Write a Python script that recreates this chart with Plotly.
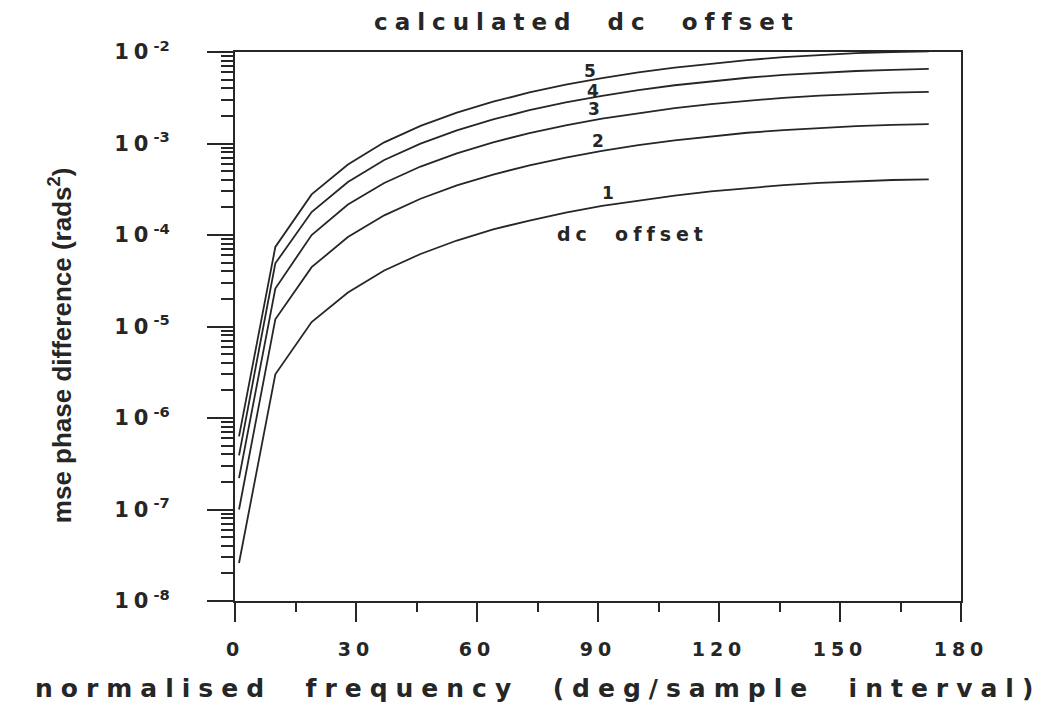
import math
import plotly.graph_objects as go

# ---- data ----
freq = [1, 10, 19, 28, 37, 46, 55, 64, 73, 82, 91, 100, 109, 118, 127, 136, 145, 154, 163, 172]

mse_1 = [2.6e-8, 3.0e-6, 1.12e-5, 2.35e-5, 4.1e-5, 6.2e-5, 8.7e-5, 1.15e-4, 1.44e-4, 1.76e-4,
         2.08e-4, 2.39e-4, 2.70e-4, 3.00e-4, 3.27e-4, 3.51e-4, 3.71e-4, 3.87e-4, 3.99e-4, 4.06e-4]
mse_2 = [1.0e-7, 1.2e-5, 4.45e-5, 9.5e-5, 1.64e-4, 2.49e-4, 3.48e-4, 4.58e-4, 5.77e-4, 7.02e-4,
         8.3e-4, 9.58e-4, 1.08e-3, 1.20e-3, 1.31e-3, 1.40e-3, 1.48e-3, 1.55e-3, 1.60e-3, 1.63e-3]
mse_3 = [2.2e-7, 2.6e-5, 1.0e-4, 2.15e-4, 3.7e-4, 5.6e-4, 7.8e-4, 1.03e-3, 1.30e-3, 1.58e-3,
         1.87e-3, 2.15e-3, 2.43e-3, 2.70e-3, 2.94e-3, 3.16e-3, 3.34e-3, 3.49e-3, 3.59e-3, 3.66e-3]
mse_4 = [3.9e-7, 4.9e-5, 1.78e-4, 3.8e-4, 6.6e-4, 9.95e-4, 1.39e-3, 1.83e-3, 2.31e-3, 2.81e-3,
         3.32e-3, 3.83e-3, 4.33e-3, 4.80e-3, 5.23e-3, 5.61e-3, 5.94e-3, 6.20e-3, 6.39e-3, 6.55e-3]
mse_5 = [6.3e-7, 7.4e-5, 2.78e-4, 5.9e-4, 1.03e-3, 1.56e-3, 2.17e-3, 2.86e-3, 3.61e-3, 4.39e-3,
         5.19e-3, 5.98e-3, 6.76e-3, 7.50e-3, 8.17e-3, 8.77e-3, 9.28e-3, 9.72e-3, 1.0e-2, 1.015e-2]

series = [mse_1, mse_2, mse_3, mse_4, mse_5]
series_labels = ["1", "2", "3", "4", "5"]
label_freq = [92.4, 90.1, 89.1, 88.7, 87.9]
label_mse = [2.86e-4, 1.07e-3, 2.38e-3, 3.77e-3, 6.24e-3]

x_ticks = [0, 30, 60, 90, 120, 150, 180]
x_minor = [15, 45, 75, 105, 135, 165]
y_exponents = [-8, -7, -6, -5, -4, -3, -2]

INK = "#262626"
FONT = "DejaVu Sans"


def spaced(text, px):
    return f'<span style="letter-spacing:{px}px">{text}</span>'


fig = go.Figure()
for name, vals in zip(series_labels, series):
    fig.add_trace(go.Scatter(x=freq, y=vals, mode="lines", name=name,
                             line=dict(color=INK, width=1.8), showlegend=False))

# curve labels
for lab, lx, ly in zip(series_labels, label_freq, label_mse):
    fig.add_annotation(x=lx, y=math.log10(ly), xref="x", yref="y", text=lab,
                       showarrow=False, font=dict(family=FONT, size=17, color=INK, weight="bold"))
fig.add_annotation(x=98.6, y=math.log10(1.02e-4), xref="x", yref="y",
                   text=spaced("dc  offset", 5), showarrow=False,
                   font=dict(family=FONT, size=19, color=INK, weight="bold"))

# titles
fig.add_annotation(x=0.485, y=1.0546, xref="paper", yref="paper", yanchor="middle",
                   text=spaced("calculated  dc  offset", 7), showarrow=False,
                   font=dict(family=FONT, size=23, color=INK, weight="bold"))
fig.add_annotation(x=0.418, y=-0.1585, xref="paper", yref="paper", yanchor="middle",
                   text=spaced("normalised  frequency  (deg/sample  interval)", 8), showarrow=False,
                   font=dict(family=FONT, size=25, color=INK, weight="bold"))
fig.add_annotation(x=-0.241, y=0.466, xref="paper", yref="paper", textangle=-90,
                   xanchor="center", yanchor="middle",
                   text="mse phase difference (rads<sup>2</sup>)", showarrow=False,
                   font=dict(family="Liberation Sans", size=26, color=INK, weight="bold"))

fig.update_layout(
    width=1045, height=705,
    margin=dict(l=235, r=84, t=52, b=104),
    paper_bgcolor="white", plot_bgcolor="white",
    xaxis=dict(range=[0, 180], tickmode="array", tickvals=x_ticks,
               ticktext=[spaced(str(v), 5) for v in x_ticks],
               ticks="outside", ticklen=19, tickwidth=2, tickcolor=INK,
               showline=True, linewidth=2, linecolor=INK, mirror=True,
               showgrid=False, zeroline=False, ticklabelstandoff=11,
               minor=dict(tickmode="array", tickvals=x_minor, ticks="outside",
                          ticklen=9, tickwidth=2, tickcolor=INK, showgrid=False),
               tickfont=dict(family=FONT, size=19, color=INK, weight="bold")),
    yaxis=dict(type="log", range=[-8, -2], tickmode="array",
               tickvals=[10.0 ** e for e in y_exponents],
               ticktext=[spaced("10", 5) + f"<sup>-{-e}</sup>" for e in y_exponents],
               ticks="outside", ticklen=26, tickwidth=2, tickcolor=INK,
               showline=True, linewidth=2, linecolor=INK, mirror=True,
               showgrid=False, zeroline=False, ticklabelstandoff=33,
               minor=dict(tickmode="array",
                          tickvals=[k * 10.0 ** e for e in y_exponents[:-1] for k in range(2, 10)],
                          ticks="outside", ticklen=12, tickwidth=2, tickcolor=INK, showgrid=False),
               tickfont=dict(family=FONT, size=21, color=INK, weight="bold")),
)

fig.write_html("out.html")
